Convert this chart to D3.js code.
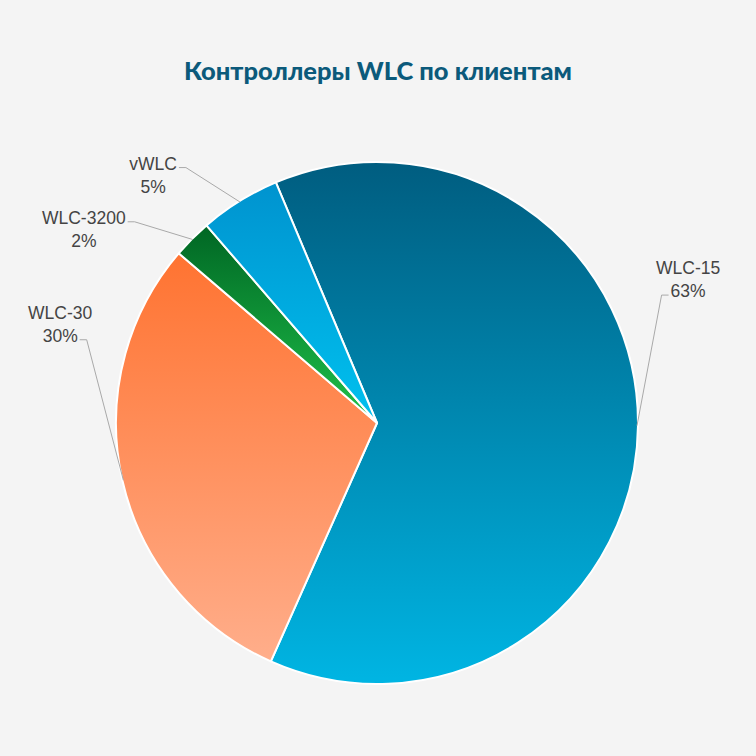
<!DOCTYPE html>
<html>
<head>
<meta charset="utf-8">
<script src="https://cdn.jsdelivr.net/npm/d3@7"></script>
<style>
  html, body { margin: 0; padding: 0; background: #f4f4f4; }
  svg { display: block; }
</style>
</head>
<body>
<script>
'use strict';

// chart data
const names = ["WLC-15", "WLC-30", "WLC-3200", "vWLC"];
const shares = [63.0, 29.6, 2.4, 5.0];

// gradient colours per slice, top -> bottom
const topColors = ["#005d80", "#ff7331", "#006624", "#0093cf"];
const bottomColors = ["#00b5e3", "#ffae8b", "#1fc24a", "#00c1ef"];

const m = {
  width: 756,
  height: 756,
  cx: 377,
  cy: 423,
  radius: 261
}

// where each leader line bends (angle in degrees from top, radius)
const labelLayout = {
  "WLC-15": { angle: 65.8, r: 312, side: 1, row: 1 },
  "WLC-30": { angle: 286.0, r: 302, side: -1, row: 1 },
  "WLC-3200": { angle: 309.7, r: 315, side: -1, row: 0 },
  "vWLC": { angle: 323.2, r: 319, side: -1, row: 0 }
}

let svg = d3.select('body')
  .append('svg')
  .attr('width', m.width)
  .attr('height', m.height);

svg.append('rect')
  .attr('width', m.width)
  .attr('height', m.height)
  .attr('fill', '#f4f4f4');

// title
svg.append('text')
  .attr('x', 378)
  .attr('y', 80)
  .attr('text-anchor', 'middle')
  .style('font-family', 'Lato, "Open Sans", sans-serif')
  .style('font-weight', 900)
  .style('font-size', '25.5px')
  .style('fill', '#0b5a7b')
  .text('Контроллеры WLC по клиентам');

let defs = svg.append('defs');
names.forEach((n, i) => {
  let g = defs.append('linearGradient')
    .attr('id', 'grad' + i)
    .attr('x1', 0).attr('y1', 0)
    .attr('x2', 0).attr('y2', 1);
  g.append('stop').attr('offset', '0%').attr('stop-color', topColors[i]);
  g.append('stop').attr('offset', '100%').attr('stop-color', bottomColors[i]);
});

const rows = names.map((n, i) => ({ name: n, value: shares[i], idx: i }));

let pie = d3.pie()
  .sort(null)
  .value((d) => d.value)
  .startAngle(-22.8 * Math.PI / 180)
  .endAngle((360 - 22.8) * Math.PI / 180);

let arc = d3.arc()
  .innerRadius(0)
  .outerRadius(m.radius);

let chart = svg.append('g')
  .attr('transform', 'translate(' + m.cx + ',' + m.cy + ')');

let arcs = pie(rows);

chart.selectAll('.slice')
  .data(arcs)
  .enter()
  .append('path')
  .attr('class', 'slice')
  .attr('d', arc)
  .attr('fill', (d) => 'url(#grad' + d.data.idx + ')')
  .attr('stroke', '#ffffff')
  .attr('stroke-width', 2)
  .attr('stroke-linejoin', 'round');

function polar(angleRad, r) {
  return [r * Math.sin(angleRad), -r * Math.cos(angleRad)];
}

// leader lines and labels
arcs.forEach((d) => {
  let lay = labelLayout[d.data.name];
  let mid = (d.startAngle + d.endAngle) / 2;
  let p0 = polar(mid, m.radius - 1);
  let p1 = polar(lay.angle * Math.PI / 180, lay.r);
  let p2 = [p1[0] + lay.side * 7, p1[1]];

  chart.append('polyline')
    .attr('points', [p0, p1, p2].map((p) => p.join(',')).join(' '))
    .attr('fill', 'none')
    .attr('stroke', '#a9a9a9')
    .attr('stroke-width', 1);

  // label text is centred; leader meets the given row at its edge
  let lines = [d.data.name, Math.round(d.data.value) + '%'];
  let g = chart.append('g');
  let texts = lines.map((t, k) => g.append('text')
    .attr('text-anchor', 'middle')
    .attr('y', p2[1] + (k - lay.row) * 23 + 2)
    .style('font-family', '"Liberation Sans", Arial, sans-serif')
    .style('font-size', '17.5px')
    .style('fill', '#444444')
    .text(t));
  let w = texts[lay.row].node().getComputedTextLength();
  let cx = p2[0] + lay.side * (w / 2 + 2);
  texts.forEach((t) => t.attr('x', cx));
});
</script>
</body>
</html>
